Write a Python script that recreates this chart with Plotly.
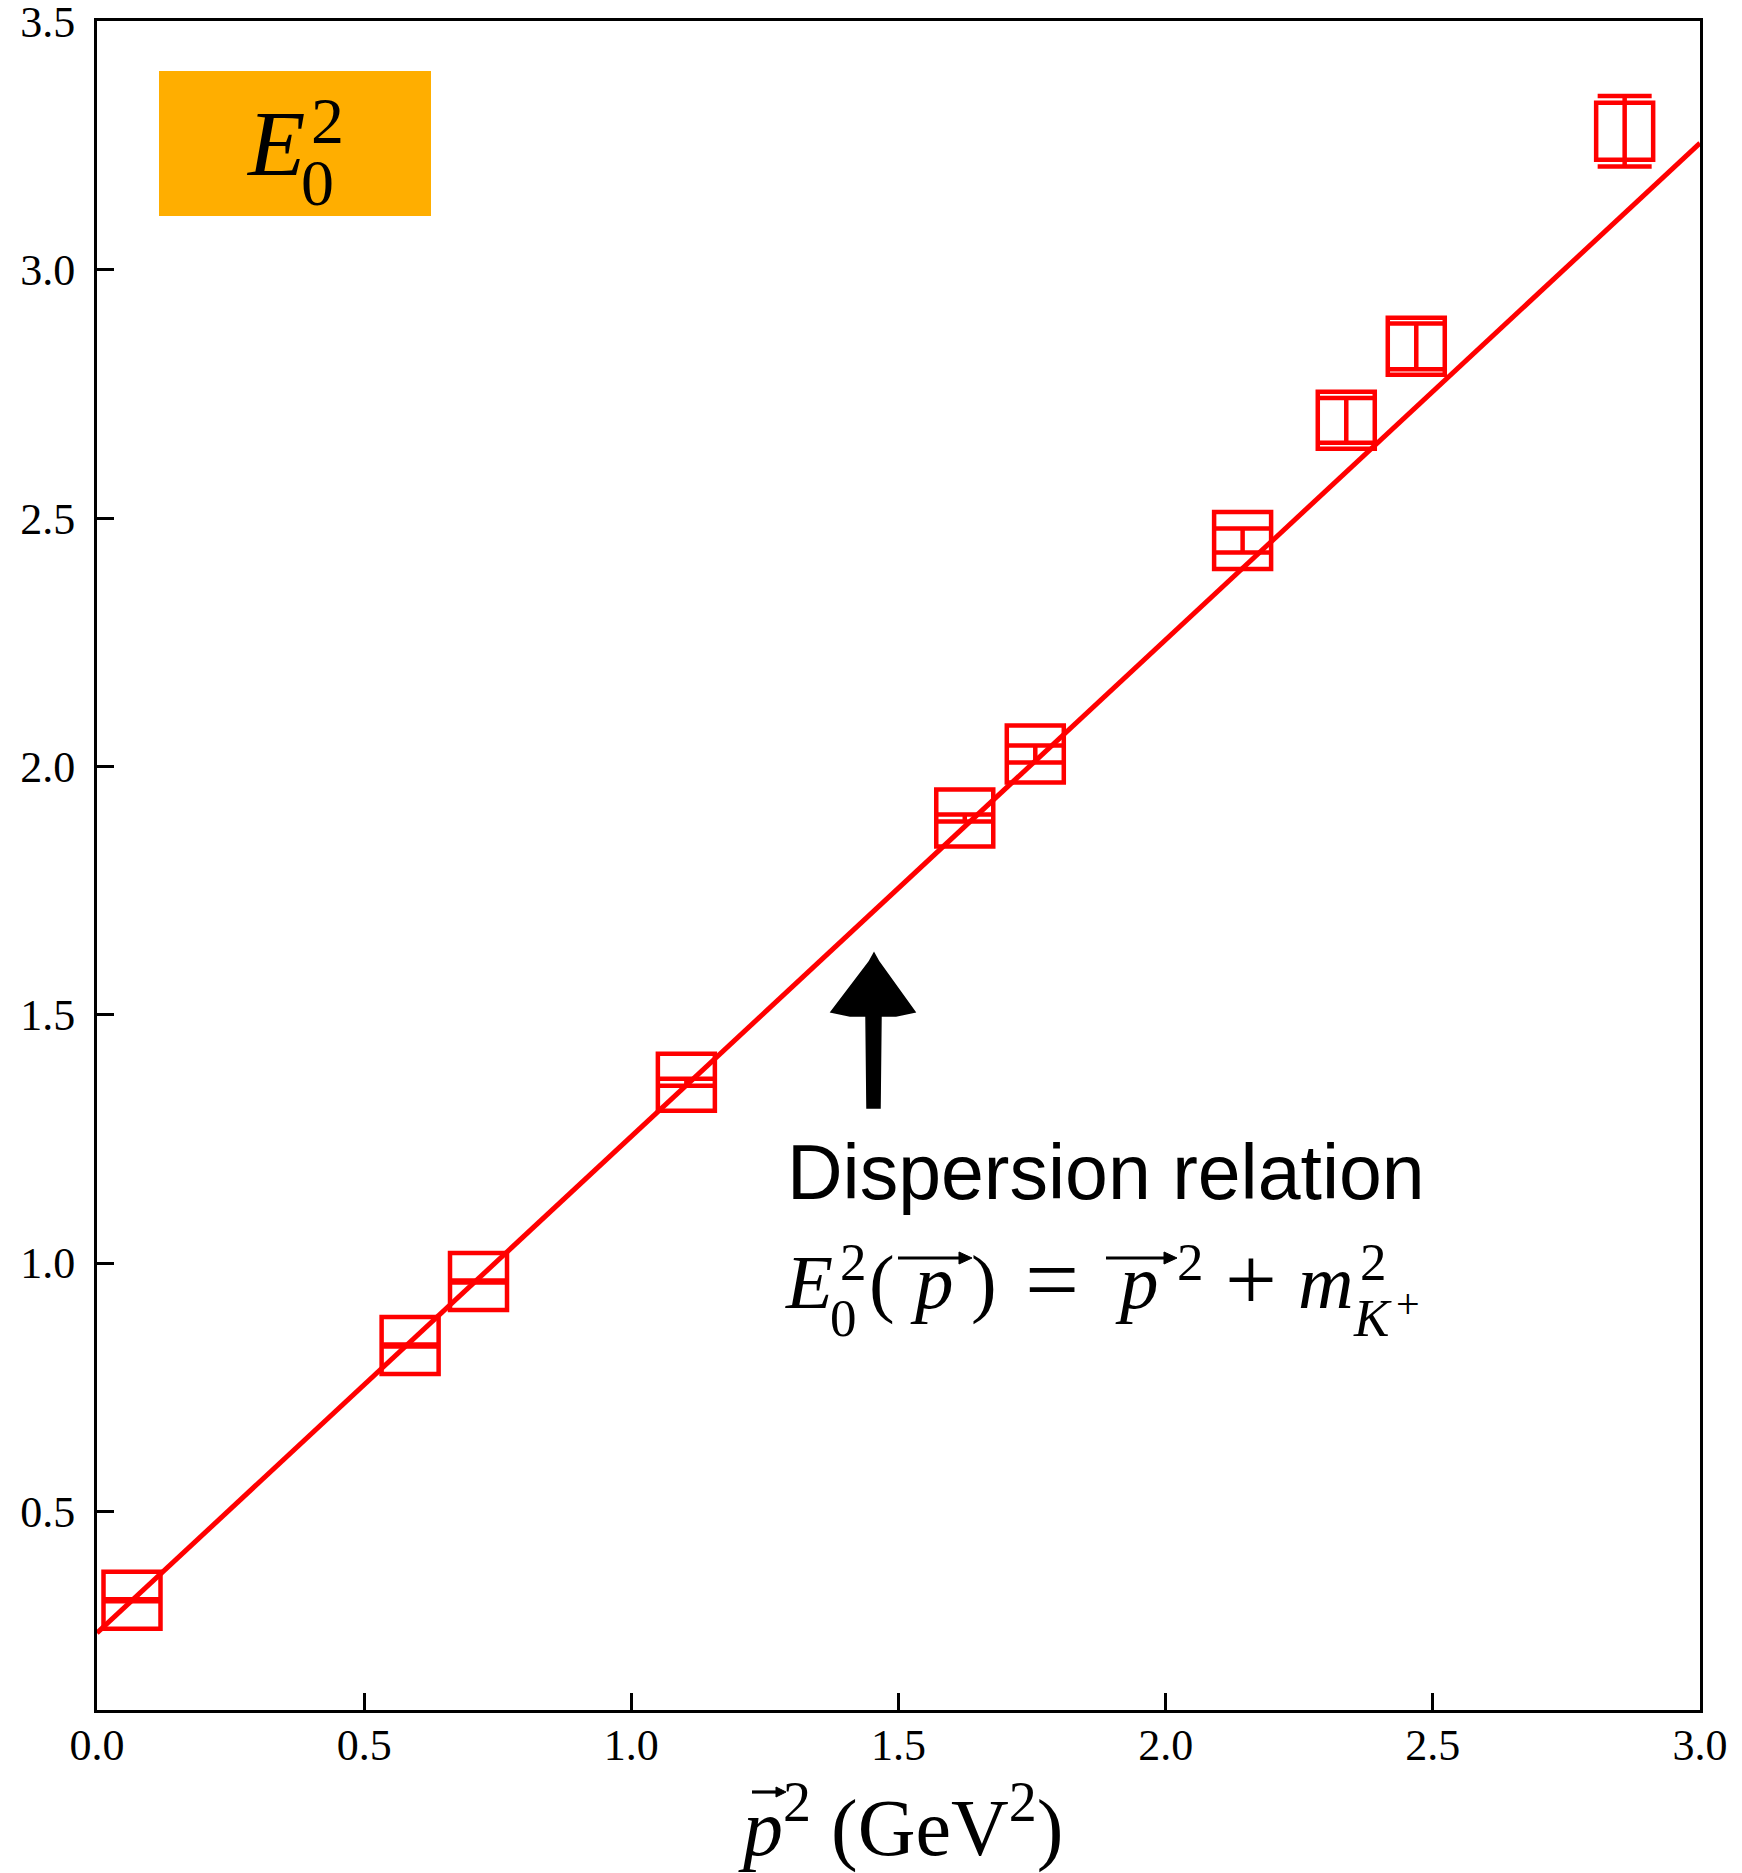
import plotly.graph_objects as go

# Measured E0^2 versus squared momentum (GeV^2)
p_sq = [0.0655, 0.586, 0.714, 1.103, 1.624, 1.756, 2.144, 2.338, 2.469, 2.859]
E0_sq = [0.321, 0.834, 0.963, 1.364, 1.896, 2.025, 2.455, 2.697, 2.846, 3.279]
E0_sq_err = [0.002, 0.002, 0.002, 0.007, 0.007, 0.017, 0.024, 0.045, 0.046, 0.071]

# Continuum dispersion relation E^2 = p^2 + m_K^2
m_K_sq = 0.255
fit_p_sq = [0.0, 3.0]
fit_E0_sq = [p + m_K_sq for p in fit_p_sq]

x_tickvals = [0.0, 0.5, 1.0, 1.5, 2.0, 2.5, 3.0]
x_ticktext = ["0.0", "0.5", "1.0", "1.5", "2.0", "2.5", "3.0"]
y_tickvals = [0.5, 1.0, 1.5, 2.0, 2.5, 3.0, 3.5]
y_ticktext = ["0.5", "1.0", "1.5", "2.0", "2.5", "3.0", "3.5"]

W, H = 1742, 1873
L, R, T, B = 97, 42, 21, 163
SERIF = "Liberation Serif"
SANS = "Liberation Sans"
RED = "#ff0000"


def fx(px):
    """pixel column -> paper x"""
    return (px - L) / (W - L - R)


def fy(py):
    """pixel row -> paper y"""
    return (H - B - py) / (H - T - B)


fig = go.Figure()

fig.add_trace(go.Scatter(
    x=p_sq, y=E0_sq, mode="markers",
    marker=dict(symbol="square-open", size=57, color=RED, line=dict(width=4.5)),
    error_y=dict(type="data", array=E0_sq_err, color=RED, thickness=4.5, width=27),
    showlegend=False,
))
fig.add_trace(go.Scatter(
    x=fit_p_sq, y=fit_E0_sq, mode="lines",
    line=dict(color=RED, width=5), showlegend=False,
))

shapes = []
# orange label box
shapes.append(dict(type="rect", xref="paper", yref="paper",
                   x0=fx(159), x1=fx(431), y0=fy(216), y1=fy(71),
                   fillcolor="#ffae00", line=dict(width=0), layer="above"))


def poly(points):
    return "M " + " L ".join(f"{fx(a):.5f},{fy(b):.5f}" for a, b in points) + " Z"


# big upward arrow pointing at the dispersion line
shapes.append(dict(type="path", xref="paper", yref="paper",
                   path=poly([(874, 953), (879, 962), (915, 1012), (896, 1016), (881, 1016),
                              (880, 1108), (867, 1108), (866, 1016), (850, 1016),
                              (831, 1012), (869, 962)]),
                   fillcolor="black", line=dict(color="black", width=1.5)))


def vec_arrow(x0, x1, y, head=13, half=6):
    line = dict(type="line", xref="paper", yref="paper",
                x0=fx(x0), x1=fx(x1 - 4), y0=fy(y), y1=fy(y),
                line=dict(color="black", width=3.2))
    tip = dict(type="path", xref="paper", yref="paper",
               path=poly([(x1, y), (x1 - head, y - half), (x1 - head, y + half)]),
               fillcolor="black", line=dict(color="black", width=1))
    return [line, tip]


shapes += vec_arrow(898, 972, 1258)
shapes += vec_arrow(1106, 1177, 1258)
shapes += vec_arrow(752, 786, 1792, head=10, half=5)

annotations = []


def txt(text, cx, cy, size, family=SERIF, anchor="center"):
    annotations.append(dict(text=text, xref="paper", yref="paper",
                            x=fx(cx), y=fy(cy), xanchor=anchor, yanchor="middle",
                            showarrow=False,
                            font=dict(family=family, size=size, color="black")))


# label inside orange box
txt("<i>E</i>", 275, 143, 94)
txt("2", 327, 120, 66)
txt("0", 317, 182, 66)

# dispersion relation caption
txt("Dispersion relation", 1106, 1172, 77, family=SANS)

# equation
txt("<i>E</i>", 809, 1282, 77)
txt("2", 853, 1262, 53)
txt("0", 843, 1318, 53)
txt("(", 882, 1282, 77)
txt("<i>p</i>", 932, 1282, 77)
txt(")", 984, 1282, 77)
txt("=", 1052, 1279, 96)
txt("<i>p</i>", 1137, 1282, 77)
txt("2", 1190, 1262, 53)
txt("+", 1251, 1279, 92)
txt("<i>m</i>", 1326, 1282, 77)
txt("2", 1373, 1262, 53)
txt("<i>K</i>", 1372, 1318, 53)
txt("+", 1408, 1304, 42)

# x-axis title
txt("<i>p</i><sup>2</sup> (GeV<sup>2</sup>)", 900, 1822, 80)

axis_common = dict(
    showline=True, linewidth=3, linecolor="black", mirror=True,
    ticks="inside", ticklen=17, tickwidth=3, tickcolor="black",
    showgrid=False, zeroline=False, automargin=False,
    tickfont=dict(family=SERIF, size=44, color="black"),
)

fig.update_layout(
    width=W, height=H,
    margin=dict(l=L, r=R, t=T, b=B, autoexpand=False),
    paper_bgcolor="white", plot_bgcolor="white",
    xaxis=dict(range=[0, 3], tickvals=x_tickvals, ticktext=x_ticktext,
               ticklabelstandoff=-6, **axis_common),
    yaxis=dict(range=[0.1, 3.501], tickvals=y_tickvals, ticktext=y_ticktext,
               ticklabelstandoff=10, ticklabeloverflow="allow", **axis_common),
    shapes=shapes,
    annotations=annotations,
)

fig.write_html("out.html")
